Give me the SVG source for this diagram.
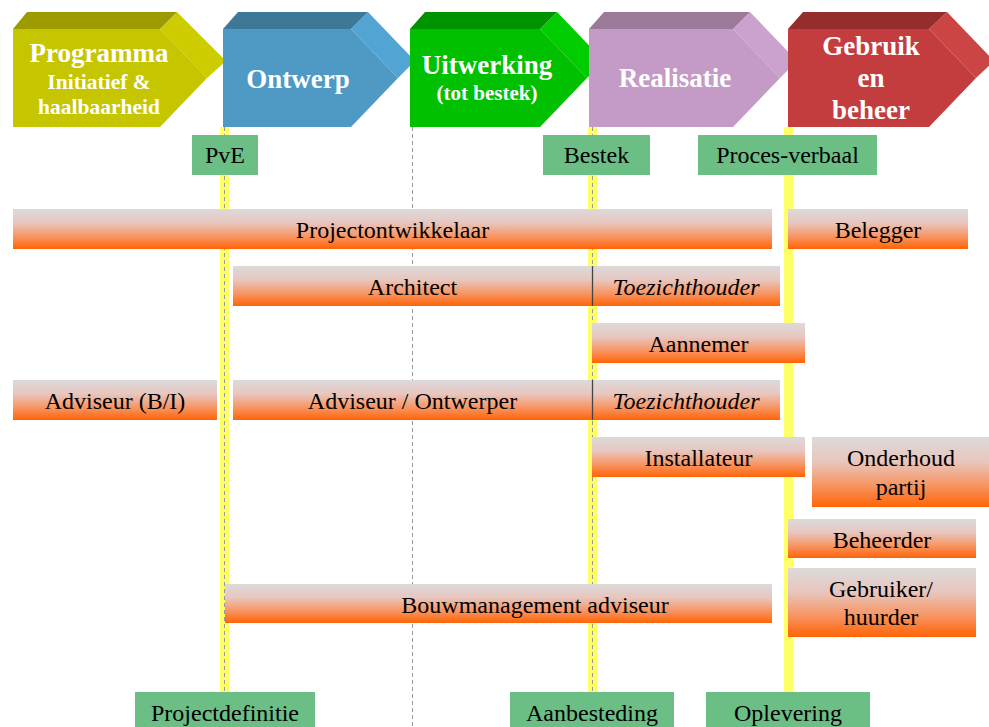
<svg xmlns="http://www.w3.org/2000/svg" width="989" height="727" viewBox="0 0 989 727">
<defs>
<linearGradient id="barGrad" x1="0" y1="0" x2="0" y2="1">
<stop offset="0" stop-color="#DCDADA"/>
<stop offset="0.35" stop-color="#E8C6BE"/>
<stop offset="0.7" stop-color="#F8935F"/>
<stop offset="1" stop-color="#FF6405"/>
</linearGradient>
<style>
.bar{fill:url(#barGrad);}
.ms{fill:#6BBF85;}
.t{font-family:"Liberation Serif","Times New Roman",serif;font-size:24px;fill:#000;text-anchor:middle;}
.it{font-style:italic;}
.h{font-family:"Liberation Serif","Times New Roman",serif;font-weight:bold;fill:#fff;text-anchor:middle;}
.band{fill:#FFFF66;}
.dash{stroke:#999;stroke-width:1;stroke-dasharray:4,3;fill:none;}
.sep{stroke:#444;stroke-width:1.3;}
</style>
</defs>
<rect width="989" height="727" fill="#fff"/>

<g id="connectors">
<rect class="band" x="220" y="127" width="9" height="565"/>
<rect class="band" x="588" y="127" width="9" height="565"/>
<rect class="band" x="784" y="127" width="9" height="565"/>
<line class="dash" x1="224.5" y1="127" x2="224.5" y2="692"/>
<line class="dash" x1="412.5" y1="127" x2="412.5" y2="727"/>
<line class="dash" x1="592.5" y1="127" x2="592.5" y2="692"/>
</g>

<g id="phase-programma">
<polygon fill="#CCCC00" points="160,29 177,12 226,61 207,78"/>
<polygon fill="#9C9C00" points="13,29 27,12 177,12 160,29"/>
<polygon fill="#C6C600" points="13,29 160,29 207,78 160,127 13,127"/>
<text class="h" font-size="27" x="99" y="62">Programma</text>
<text class="h" font-size="21.5" x="99" y="89">Initiatief &amp;</text>
<text class="h" font-size="21.5" x="99" y="114">haalbaarheid</text>
</g>
<g id="phase-ontwerp">
<polygon fill="#52A5D3" points="351,29 368,12 415,61 398,78"/>
<polygon fill="#3D7896" points="223,29 238,12 368,12 351,29"/>
<polygon fill="#4E9AC4" points="223,29 351,29 398,78 351,127 223,127"/>
<text class="h" font-size="27" x="298" y="88">Ontwerp</text>
</g>
<g id="phase-uitwerking">
<polygon fill="#00CC00" points="540,29 557,12 604,61 587,78"/>
<polygon fill="#009300" points="410,29 425,12 557,12 540,29"/>
<polygon fill="#00C000" points="410,29 540,29 587,78 540,127 410,127"/>
<text class="h" font-size="27" x="487" y="74">Uitwerking</text>
<text class="h" font-size="21" x="487" y="100">(tot bestek)</text>
</g>
<g id="phase-realisatie">
<polygon fill="#CAA2CD" points="733,29 750,12 797,61 780,78"/>
<polygon fill="#9A7A98" points="589,29 604,12 750,12 733,29"/>
<polygon fill="#C49BC6" points="589,29 733,29 780,78 733,127 589,127"/>
<text class="h" font-size="27" x="675" y="87">Realisatie</text>
</g>
<g id="phase-gebruik">
<polygon fill="#CC4545" points="929,29 947,12 994,61 976,78"/>
<polygon fill="#962D2D" points="788,29 803,12 947,12 929,29"/>
<polygon fill="#C33D3E" points="788,29 929,29 976,78 929,127 788,127"/>
<text class="h" font-size="27" x="871" y="55">Gebruik</text>
<text class="h" font-size="27" x="871" y="87">en</text>
<text class="h" font-size="27" x="871" y="119">beheer</text>
</g>

<g id="ms-pve"><rect class="ms" x="192" y="135" width="66" height="40"/><text class="t" x="225" y="163">PvE</text></g>
<g id="ms-bestek"><rect class="ms" x="543" y="135" width="107" height="40"/><text class="t" x="596.5" y="163">Bestek</text></g>
<g id="ms-procesverbaal"><rect class="ms" x="698" y="135" width="179" height="40"/><text class="t" x="787.5" y="163">Proces-verbaal</text></g>

<g id="bar-projectontwikkelaar"><rect class="bar" x="13" y="209" width="759" height="40"/><text class="t" x="392.5" y="238">Projectontwikkelaar</text></g>
<g id="bar-belegger"><rect class="bar" x="788" y="209" width="180" height="40"/><text class="t" x="878" y="238">Belegger</text></g>
<g id="bar-architect"><rect class="bar" x="233" y="266" width="359" height="40"/><text class="t" x="412.5" y="295">Architect</text></g>
<g id="bar-toezichthouder1"><rect class="bar" x="592" y="266" width="188" height="40"/><line class="sep" x1="592.5" y1="266" x2="592.5" y2="306"/><text class="t it" x="686" y="295">Toezichthouder</text></g>
<g id="bar-aannemer"><rect class="bar" x="592" y="323" width="213" height="40"/><text class="t" x="698.5" y="352">Aannemer</text></g>
<g id="bar-adviseur-bi"><rect class="bar" x="13" y="380" width="204" height="40"/><text class="t" x="115" y="409">Adviseur (B/I)</text></g>
<g id="bar-adviseur-ontwerper"><rect class="bar" x="233" y="380" width="359" height="40"/><text class="t" x="412.5" y="409">Adviseur / Ontwerper</text></g>
<g id="bar-toezichthouder2"><rect class="bar" x="592" y="380" width="188" height="40"/><line class="sep" x1="592.5" y1="380" x2="592.5" y2="420"/><text class="t it" x="686" y="409">Toezichthouder</text></g>
<g id="bar-installateur"><rect class="bar" x="592" y="437" width="213" height="40"/><text class="t" x="698.5" y="466">Installateur</text></g>
<g id="bar-onderhoud"><rect class="bar" x="812" y="437" width="177" height="70"/><text class="t" x="901" y="466">Onderhoud</text><text class="t" x="901" y="495">partij</text></g>
<g id="bar-beheerder"><rect class="bar" x="788" y="519" width="188" height="39"/><text class="t" x="882" y="548">Beheerder</text></g>
<g id="bar-gebruiker"><rect class="bar" x="788" y="568" width="188" height="69"/><text class="t" x="881" y="597">Gebruiker/</text><text class="t" x="881" y="625">huurder</text></g>
<g id="bar-bouwmanagement"><rect class="bar" x="225" y="584" width="547" height="39"/><text class="t" x="535" y="613">Bouwmanagement adviseur</text></g>

<g id="ms-projectdefinitie"><rect class="ms" x="135" y="692" width="180" height="40"/><text class="t" x="225" y="721">Projectdefinitie</text></g>
<g id="ms-aanbesteding"><rect class="ms" x="510" y="692" width="164" height="40"/><text class="t" x="592" y="721">Aanbesteding</text></g>
<g id="ms-oplevering"><rect class="ms" x="706" y="692" width="164" height="40"/><text class="t" x="788" y="721">Oplevering</text></g>
</svg>
